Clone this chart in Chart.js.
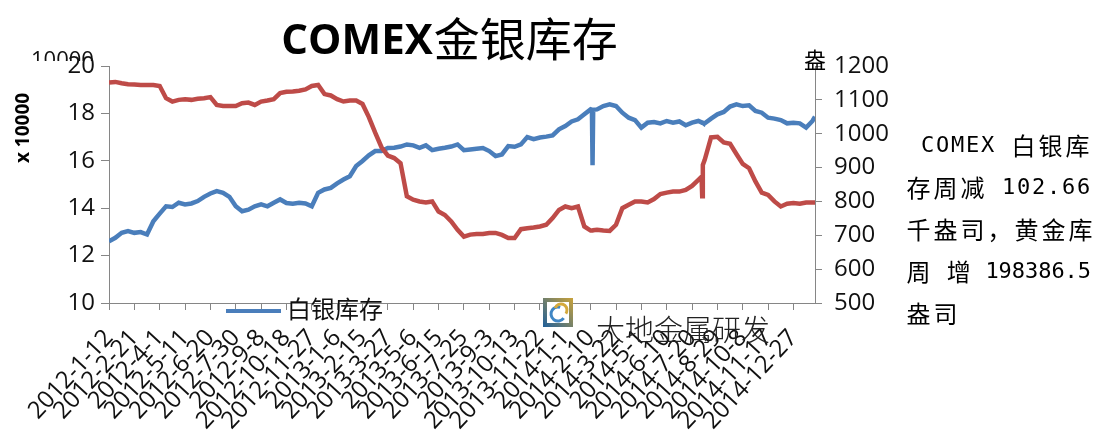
<!DOCTYPE html>
<html>
<head>
<meta charset="utf-8">
<script src="https://cdn.jsdelivr.net/npm/chart.js@4.4.1/dist/chart.umd.min.js"></script>
<style>
  html, body { margin: 0; padding: 0; background: #fff; }
  #wrap { width: 1094px; height: 434px; position: relative; }
</style>
</head>
<body>
<div id="wrap"><canvas id="chart"></canvas></div>
<script>
// x tick labels, one every 40 days from 2012-1-12
const dateLabels = [
  "2012-1-12", "2012-2-21", "2012-4-1", "2012-5-11", "2012-6-20", "2012-7-30",
  "2012-9-8", "2012-10-18", "2012-11-27", "2013-1-6", "2013-2-15", "2013-3-27",
  "2013-5-6", "2013-6-15", "2013-7-25", "2013-9-3", "2013-10-13", "2013-11-22",
  "2014-1-1", "2014-2-10", "2014-3-22", "2014-5-1", "2014-6-10", "2014-7-20",
  "2014-8-29", "2014-10-8", "2014-11-17", "2014-12-27"
];

// days since 2012-1-12
const days = [
  0, 10, 20, 30, 40, 50, 60, 70, 80, 90, 100, 110, 120, 130, 140, 150, 160, 170, 180, 190,
  200, 210, 220, 230, 240, 250, 260, 270, 280, 290, 300, 310, 320, 330, 340, 350, 360, 370, 380, 390,
  400, 410, 420, 430, 440, 450, 460, 470, 480, 490, 500, 510, 520, 530, 540, 550, 560, 570, 580, 590,
  600, 610, 620, 630, 640, 650, 660, 670, 680, 690, 700, 710, 720, 730, 740, 750, 760, 762, 763, 764,
  770, 780, 790, 800, 810, 820, 830, 840, 850, 860, 870, 880, 890, 900, 910, 920, 930, 935, 936, 937,
  940, 950, 960, 970, 980, 990, 1000, 1010, 1020, 1030, 1040, 1050, 1060, 1070, 1080, 1090, 1100, 1110, 1114
];

// 白银库存 (x 10000, left axis)
const silver = [
  12.60, 12.75, 12.96, 13.03, 12.96, 12.99, 12.89, 13.45, 13.77, 14.08, 14.05, 14.23, 14.16, 14.20, 14.30, 14.48, 14.62, 14.72, 14.65, 14.48,
  14.08, 13.87, 13.94, 14.08, 14.16, 14.08, 14.23, 14.37, 14.22, 14.19, 14.23, 14.20, 14.08, 14.65, 14.79, 14.86, 15.05, 15.21, 15.35, 15.78,
  15.99, 16.23, 16.41, 16.41, 16.54, 16.55, 16.60, 16.69, 16.65, 16.55, 16.65, 16.45, 16.51, 16.55, 16.60, 16.69, 16.45, 16.48, 16.51, 16.54,
  16.41, 16.20, 16.27, 16.62, 16.59, 16.69, 17.00, 16.91, 16.98, 17.02, 17.07, 17.33, 17.47, 17.66, 17.75, 17.96, 18.17, 18.15, 15.81, 18.15,
  18.17, 18.31, 18.38, 18.31, 18.03, 17.82, 17.72, 17.40, 17.61, 17.64, 17.58, 17.68, 17.61, 17.66, 17.50, 17.61, 17.68, 17.62, 17.62, 17.60,
  17.58, 17.78, 17.96, 18.06, 18.29, 18.38, 18.31, 18.34, 18.10, 18.03, 17.82, 17.78, 17.72, 17.58, 17.61, 17.58, 17.40, 17.68, 17.86
];

// 黄金库存 (right axis)
const gold = [
  1151, 1153, 1149, 1146, 1145, 1144, 1144, 1144, 1141, 1105, 1095, 1100, 1102, 1100, 1103, 1105, 1108, 1085, 1082, 1082,
  1082, 1090, 1092, 1085, 1095, 1098, 1102, 1120, 1124, 1125, 1127, 1131, 1141, 1144, 1117, 1113, 1102, 1095, 1098, 1098,
  1088, 1049, 1003, 960, 935, 928, 913, 815, 805, 800, 797, 800, 770, 760, 741, 716, 696, 702, 704, 704,
  707, 707, 701, 692, 692, 718, 721, 723, 726, 731, 751, 775, 785, 780, 785, 726, 714, 714, 714, 715,
  716, 714, 713, 731, 780, 790, 800, 800, 797, 807, 822, 826, 829, 829, 834, 846, 864, 873, 815, 908,
  923, 989, 991, 974, 970, 940, 911, 898, 859, 826, 819, 800, 785, 793, 795, 793, 797, 797, 797
];

const titleLatin = "COMEX";
const titleCjk = "金银库存";
const legendLabel = "白银库存";
const watermark = "大地金属研发";
const noteLines = [" COMEX 白银库", "存周减 102.66", "千盎司，黄金库", "周 增 198386.5", "盎司"];

const BLUE = "#4a7ebb";
const RED = "#be4b48";
const AXIS = "#868686";
const CJK = '"Noto Sans CJK SC", "Noto Sans", sans-serif';

function drawMono(ctx, text, x, y, width) {
  const chars = Array.from(text);
  const full = 27;
  let half = 15;
  const nFull = chars.filter(c => c.charCodeAt(0) > 0x2000).length;
  const nHalf = chars.length - nFull;
  if (nFull * full + nHalf * half > width && nHalf) half = (width - nFull * full) / nHalf;
  ctx.textAlign = "center";
  chars.forEach(c => {
    const wide = c.charCodeAt(0) > 0x2000;
    const adv = wide ? full : half;
    ctx.font = wide ? "24px " + CJK : '22px "DejaVu Sans Mono"';
    if (c !== " ") ctx.fillText(c, x + adv / 2, y);
    x += adv;
  });
}

const decor = {
  id: "decor",
  beforeDraw(chart) {
    const ctx = chart.ctx;
    ctx.save();
    // clipped axis multiplier above the left axis
    ctx.beginPath();
    ctx.rect(0, 0, 110, 61);
    ctx.clip();
    ctx.fillStyle = "#111";
    ctx.font = '22px "Open Sans"';
    ctx.textAlign = "left";
    ctx.textBaseline = "alphabetic";
    ctx.fillText("10000", 31, 67);
    ctx.restore();
  },
  afterDraw(chart) {
    const ctx = chart.ctx;
    ctx.save();
    ctx.fillStyle = "#000";
    ctx.textBaseline = "alphabetic";

    // title
    ctx.font = 'bold 42px "Open Sans"';
    const w1 = ctx.measureText(titleLatin).width;
    ctx.font = "46px " + CJK;
    const w2 = ctx.measureText(titleCjk).width;
    let tx = 449 - (w1 + w2) / 2;
    ctx.textAlign = "left";
    ctx.font = 'bold 42px "Open Sans"';
    ctx.fillText(titleLatin, tx, 54);
    ctx.font = "46px " + CJK;
    ctx.fillText(titleCjk, tx + w1 + 1, 56);

    // left axis title
    ctx.save();
    ctx.translate(24, 128);
    ctx.rotate(-Math.PI / 2);
    ctx.textAlign = "center";
    ctx.textBaseline = "middle";
    ctx.font = 'bold 19px "Open Sans"';
    ctx.fillText("x 10000", 0, 0);
    ctx.restore();

    // right axis title (cut off)
    ctx.textAlign = "center";
    ctx.textBaseline = "middle";
    ctx.font = "22px " + CJK;
    ctx.fillText("盎", 815, 60);

    // legend
    const leg = chart.data.datasets.find(d => d.label === legendLabel);
    ctx.strokeStyle = leg.borderColor;
    ctx.lineWidth = 4;
    ctx.beginPath();
    ctx.moveTo(226, 311);
    ctx.lineTo(281, 311);
    ctx.stroke();
    ctx.fillStyle = "#111";
    ctx.textAlign = "left";
    ctx.font = "24px " + CJK;
    ctx.fillText(legendLabel, 287, 309);

    // watermark logo
    const lx = 543, ly = 298;
    const g = ctx.createLinearGradient(lx, ly + 29, lx + 30, ly);
    g.addColorStop(0, "#1f5f9a");
    g.addColorStop(1, "#c9a23a");
    ctx.fillStyle = g;
    ctx.fillRect(lx, ly, 30, 29);
    ctx.fillStyle = "#fff";
    ctx.fillRect(lx + 4, ly + 4, 22, 21);
    ctx.strokeStyle = "#3f86c4";
    ctx.lineWidth = 3;
    ctx.beginPath();
    ctx.arc(lx + 15, ly + 16, 7, Math.PI * 0.2, Math.PI * 1.6);
    ctx.stroke();
    ctx.strokeStyle = "#d4a93c";
    ctx.beginPath();
    ctx.arc(lx + 18, ly + 12, 6, Math.PI * 1.1, Math.PI * 2.2);
    ctx.stroke();

    ctx.fillStyle = "#222";
    ctx.font = "300 29px " + CJK;
    ctx.textAlign = "left";
    ctx.fillText(watermark, 596, 330);

    // note on the right
    ctx.fillStyle = "#000";
    ctx.textBaseline = "middle";
    noteLines.forEach((line, i) => {
      drawMono(ctx, line, 905, 146 + i * 42, 186);
    });
    ctx.restore();
  }
};

const ctx = document.getElementById("chart").getContext("2d");

const chart = new Chart(ctx, {
  type: "line",
  data: {
    datasets: [
      {
        label: "黄金库存",
        data: days.map((d, i) => ({ x: d, y: gold[i] })),
        yAxisID: "y2",
        borderColor: RED,
        borderWidth: 4.5,
        pointRadius: 0,
        tension: 0,
        fill: false
      },
      {
        label: legendLabel,
        data: days.map((d, i) => ({ x: d, y: silver[i] })),
        yAxisID: "y",
        borderColor: BLUE,
        borderWidth: 4.5,
        pointRadius: 0,
        tension: 0,
        fill: false
      }
    ]
  },
  options: {
    responsive: true,
    maintainAspectRatio: false,
    animation: false,
    layout: { padding: { top: 66, left: 0, right: 0, bottom: 0 } },
    plugins: {
      legend: { display: false },
      tooltip: { enabled: false },
      title: { display: false }
    },
    scales: {
      x: {
        type: "linear",
        min: 0,
        max: 1114,
        afterFit: s => { s.height = 131; },
        ticks: {
          stepSize: 40,
          includeBounds: false,
          autoSkip: false,
          maxRotation: 47,
          minRotation: 47,
          padding: 14,
          color: "#111",
          font: { family: "Open Sans", size: 24 },
          callback: v => dateLabels[Math.round(v / 40)] || ""
        },
        grid: { drawOnChartArea: false, tickLength: 7, color: AXIS },
        border: { color: AXIS, width: 1 }
      },
      y: {
        position: "left",
        min: 10,
        max: 20,
        afterFit: s => { s.width = 109; },
        ticks: {
          stepSize: 2,
          padding: 6,
          color: "#111",
          font: { family: "Open Sans", size: 24 },
          callback: v => String(v)
        },
        grid: { drawOnChartArea: false, tickLength: 8, color: AXIS },
        border: { color: AXIS, width: 1 }
      },
      y2: {
        position: "right",
        min: 500,
        max: 1200,
        afterFit: s => { s.width = 279; },
        ticks: {
          stepSize: 100,
          padding: 12,
          color: "#111",
          font: { family: "Open Sans", size: 24 },
          callback: v => String(v)
        },
        grid: { drawOnChartArea: false, tickLength: 7, color: AXIS },
        border: { color: AXIS, width: 1 }
      }
    }
  },
  plugins: [decor]
});
</script>
</body>
</html>
